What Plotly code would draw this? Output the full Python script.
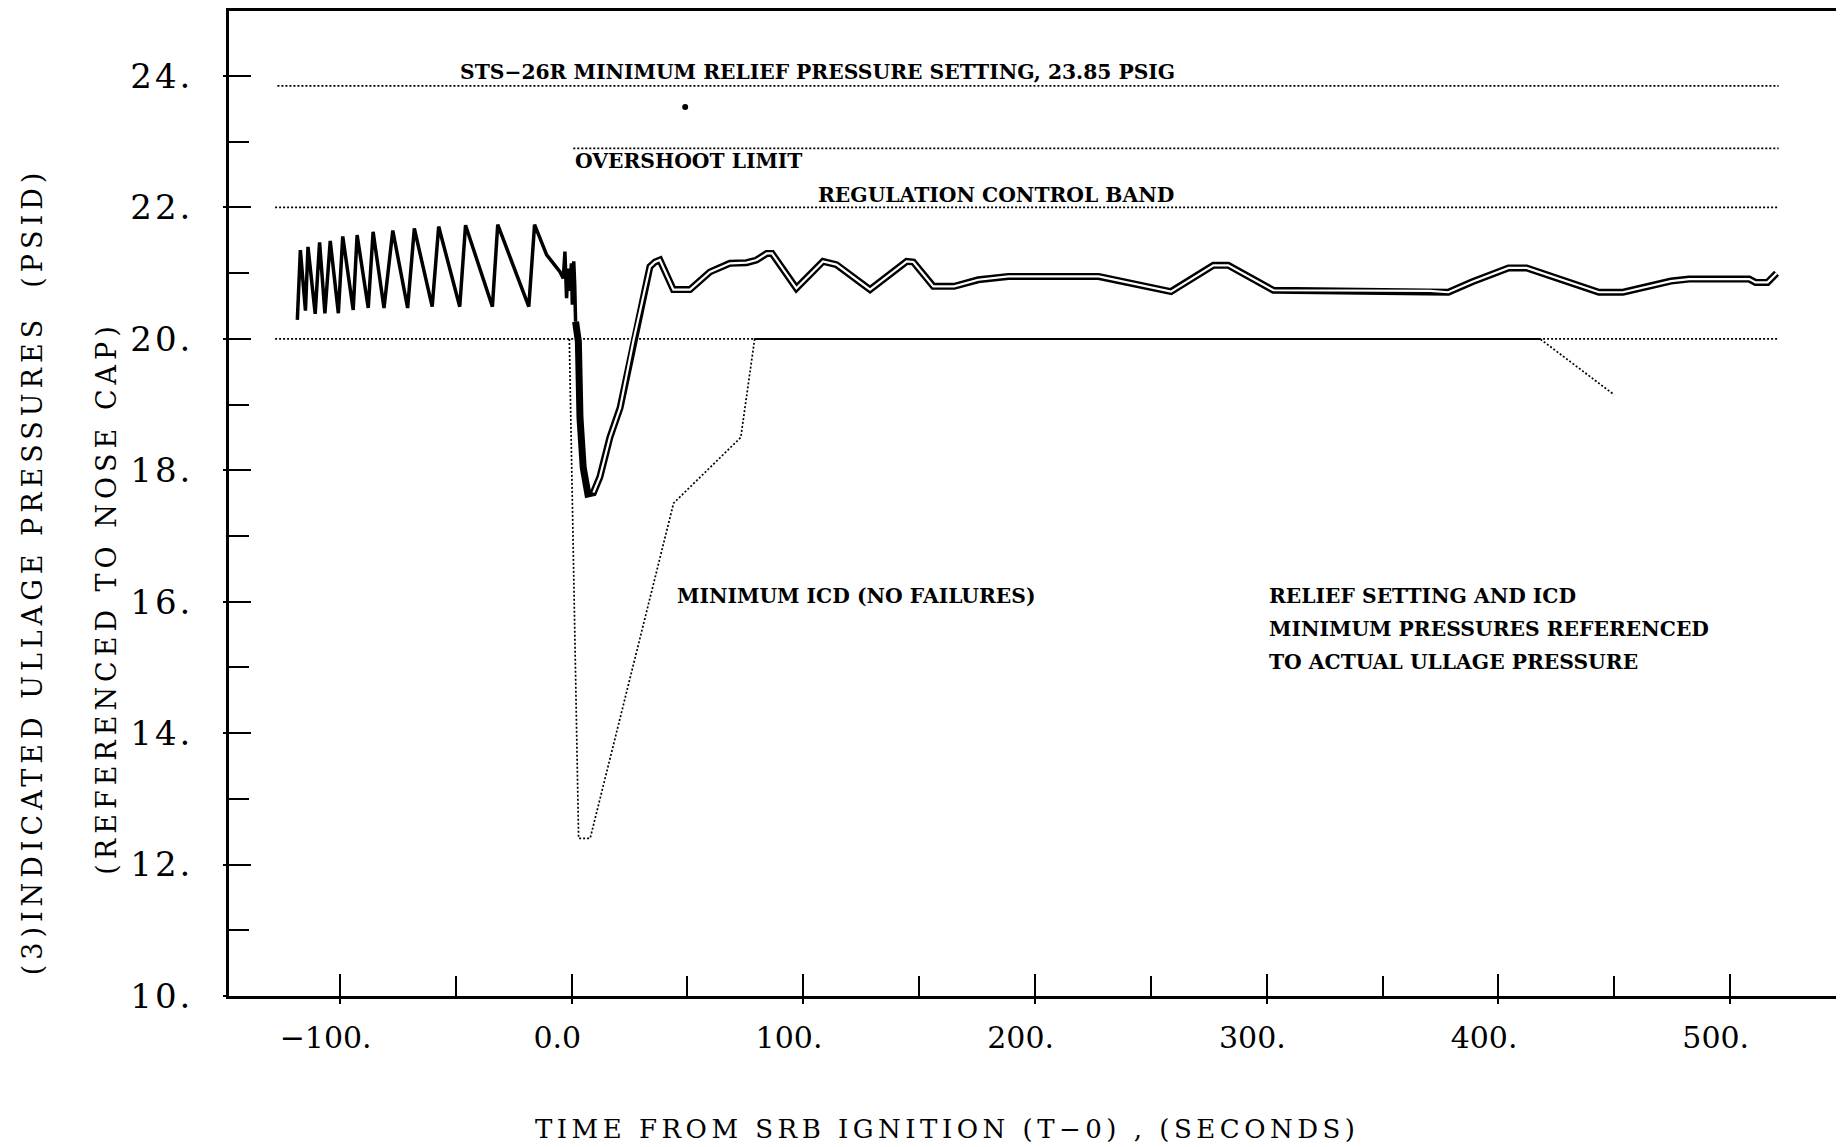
import plotly.graph_objects as go

# ---------------- data ----------------
# pre-ignition ullage pressure (sawtooth), seconds / psid
pre_t = [-118.4, -117.1, -114.9, -113.8, -110.7, -108.8, -106.5, -104.2, -100.7, -98.8,
         -94.3, -92.6, -87.8, -85.7, -81.0, -77.2, -70.8, -67.9, -60.2, -57.4,
         -48.3, -45.8, -34.2, -31.9, -18.5, -16.0, -10.8, -5.0, -3.6, -2.9,
         -2.2, -1.5, -0.8, -0.1, 0.3, 0.9, 1.3, 1.7]
pre_p = [20.29, 21.35, 20.43, 21.40, 20.38, 21.47, 20.39, 21.49, 20.39, 21.56,
         20.44, 21.58, 20.47, 21.63, 20.47, 21.65, 20.47, 21.68, 20.49, 21.71,
         20.49, 21.73, 20.49, 21.74, 20.49, 21.74, 21.28, 21.02, 20.92, 21.33,
         20.62, 21.07, 20.73, 21.15, 20.52, 21.18, 20.85, 20.26]

# flight ullage pressure (double trace)
flight_t = [1.7, 2.9, 3.6, 5.0, 7.0, 9.4, 12.2, 16.5, 20.9, 26.6,
            31.0, 33.8, 36.0, 38.1, 43.9, 51.1, 59.7, 68.3, 75.5, 79.8,
            84.2, 86.5, 97.0, 108.5, 114.3, 128.8, 144.6, 147.5, 156.1, 165.1,
            175.5, 188.5, 227.5, 258.7, 277.0, 283.4, 302.9, 370.5, 378.4, 388.8,
            404.4, 412.2, 443.4, 453.8, 474.5, 482.3, 508.3, 511.0, 516.2, 520.1]
flight_p = [20.26, 19.96, 18.80, 18.04, 17.64, 17.66, 17.90, 18.50, 18.95, 19.96,
            20.67, 21.10, 21.17, 21.20, 20.75, 20.75, 21.02, 21.15, 21.16, 21.20,
            21.30, 21.30, 20.77, 21.18, 21.13, 20.75, 21.18, 21.17, 20.80, 20.80,
            20.90, 20.95, 20.95, 20.72, 21.12, 21.12, 20.74, 20.73, 20.71, 20.87,
            21.08, 21.08, 20.71, 20.71, 20.88, 20.91, 20.91, 20.86, 20.86, 21.00]

# minimum ICD (no failures)
icd_t = [-1.0, 3.0, 8.0, 44.0, 73.0, 79.0, 418.0, 450.0]
icd_p = [20.0, 12.4, 12.4, 17.5, 18.5, 20.0, 20.0, 19.15]

# reference levels
relief_t = [-127.0, 521.0]
relief_p = [23.85, 23.85]
overshoot_t = [0.7, 521.0]
overshoot_p = [22.9, 22.9]
band_high_t = [-128.0, 521.0]
band_high_p = [22.0, 22.0]
band_low_t = [-128.0, 521.0]
band_low_p = [20.0, 20.0]

stray_t = [49.0]
stray_p = [23.53]

# ticks
x_tickvals = [-100, 0, 100, 200, 300, 400, 500]
x_ticktext = ["\u2212100.", "0.0", "100.", "200.", "300.", "400.", "500."]
x_minor = [-50, 50, 150, 250, 350, 450]
y_tickvals = [10, 12, 14, 16, 18, 20, 22, 24]
y_ticktext = ["10.", "12.", "14.", "16.", "18.", "20.", "22.", "24."]
y_minor = [11, 13, 15, 17, 19, 21, 23]

X_RANGE = [-147.9, 549.2]
Y_RANGE = [10, 24.99]

# ---------------- figure ----------------
fig = go.Figure()
dotted = dict(color="black", width=1.7, dash="2px,2px")

for tt, pp in [(relief_t, relief_p), (overshoot_t, overshoot_p),
               (band_high_t, band_high_p), (band_low_t, band_low_p)]:
    fig.add_trace(go.Scatter(x=tt, y=pp, mode="lines", line=dotted,
                             showlegend=False, hoverinfo="skip"))

fig.add_trace(go.Scatter(x=icd_t, y=icd_p, mode="lines", line=dotted,
                         showlegend=False, hoverinfo="skip"))
fig.add_trace(go.Scatter(x=icd_t[5:7], y=icd_p[5:7], mode="lines",
                         line=dict(color="black", width=2),
                         showlegend=False, hoverinfo="skip"))

fig.add_trace(go.Scatter(x=pre_t, y=pre_p, mode="lines",
                         line=dict(color="black", width=3.5),
                         showlegend=False))
fig.add_trace(go.Scatter(x=flight_t, y=flight_p, mode="lines",
                         line=dict(color="black", width=7),
                         showlegend=False))
fig.add_trace(go.Scatter(x=flight_t[5:], y=flight_p[5:], mode="lines",
                         line=dict(color="white", width=2.2),
                         showlegend=False, hoverinfo="skip"))

fig.add_trace(go.Scatter(x=stray_t, y=stray_p, mode="markers",
                         marker=dict(color="black", size=6),
                         showlegend=False, hoverinfo="skip"))

# overlay axes for the outside part of the major ticks
fig.add_trace(go.Scatter(x=[], y=[], xaxis="x2", yaxis="y2", showlegend=False))


def spaced(s, px):
    return '<span style="letter-spacing:%gpx">%s</span>' % (px, s)


pad = "\u00a0\u00a0\u00a0"
tickfont = "DejaVu Serif"
fig.update_layout(
    width=1836, height=1139,
    margin=dict(l=221, r=0, t=1, b=151),
    paper_bgcolor="white", plot_bgcolor="white",
    xaxis=dict(range=X_RANGE, showgrid=False, zeroline=False,
               showline=True, linecolor="black", linewidth=2.5, mirror=True,
               ticks="inside", ticklen=22, tickwidth=2, tickcolor="black",
               tickvals=x_tickvals, ticktext=[t + pad for t in x_ticktext],
               tickfont=dict(family=tickfont, size=30, color="black"),
               ticklabelstandoff=13,
               minor=dict(tickvals=x_minor, ticks="inside", ticklen=20,
                          tickwidth=2, tickcolor="black", showgrid=False)),
    yaxis=dict(range=Y_RANGE, showgrid=False, zeroline=False,
               showline=True, linecolor="black", linewidth=2.5, mirror=False,
               ticks="inside", ticklen=22, tickwidth=2, tickcolor="black",
               tickvals=y_tickvals, ticktext=[spaced(t, 3) for t in y_ticktext],
               tickfont=dict(family=tickfont, size=34, color="black"),
               ticklabelstandoff=26,
               minor=dict(tickvals=y_minor, ticks="inside", ticklen=20,
                          tickwidth=2, tickcolor="black", showgrid=False)),
    xaxis2=dict(range=X_RANGE, overlaying="x", anchor="y", side="bottom",
                showgrid=False, zeroline=False, showline=False,
                ticks="outside", ticklen=7, tickwidth=2, tickcolor="black",
                tickvals=x_tickvals, showticklabels=False),
    yaxis2=dict(range=Y_RANGE, overlaying="y", anchor="x", side="left",
                showgrid=False, zeroline=False, showline=False,
                ticks="outside", ticklen=5, tickwidth=2, tickcolor="black",
                tickvals=y_tickvals, showticklabels=False),
)

labfont = dict(family="DejaVu Serif", size=20.3, color="black", weight="bold")
notes = [
    ("STS\u221226R MINIMUM RELIEF PRESSURE SETTING, 23.85 PSIG", -49.0, 24.06),
    ("OVERSHOOT LIMIT", 0.7, 22.71),
    ("REGULATION CONTROL BAND", 105.5, 22.19),
    ("MINIMUM ICD (NO FAILURES)", 44.6, 16.09),
    ("RELIEF SETTING AND ICD", 300.0, 16.09),
    ("MINIMUM PRESSURES REFERENCED", 300.0, 15.59),
    ("TO ACTUAL ULLAGE PRESSURE", 300.0, 15.09),
]
for txt, xx, yy in notes:
    fig.add_annotation(x=xx, y=yy, text=txt, showarrow=False, xanchor="left",
                       yanchor="middle", font=labfont)

fig.add_annotation(xref="paper", yref="paper", x=0.4446, y=-0.1348,
                   text=spaced("TIME FROM SRB IGNITION (T\u22120) , (SECONDS)", 4.5),
                   showarrow=False, xanchor="center", yanchor="middle",
                   font=dict(family="DejaVu Serif", size=26, color="black"))
ytitlefont = dict(family="DejaVu Serif", size=27, color="black")
fig.add_annotation(xref="paper", yref="paper", x=-0.1217, y=0.4316,
                   text=spaced("(3)INDICATED ULLAGE PRESSURES\u00a0\u00a0(PSID)", 5),
                   textangle=-90,
                   showarrow=False, xanchor="center", yanchor="middle", font=ytitlefont)
fig.add_annotation(xref="paper", yref="paper", x=-0.0756, y=0.4043,
                   text=spaced("(REFERENCED TO NOSE CAP)", 5), textangle=-90,
                   showarrow=False, xanchor="center", yanchor="middle", font=ytitlefont)

fig.write_html("out.html")
